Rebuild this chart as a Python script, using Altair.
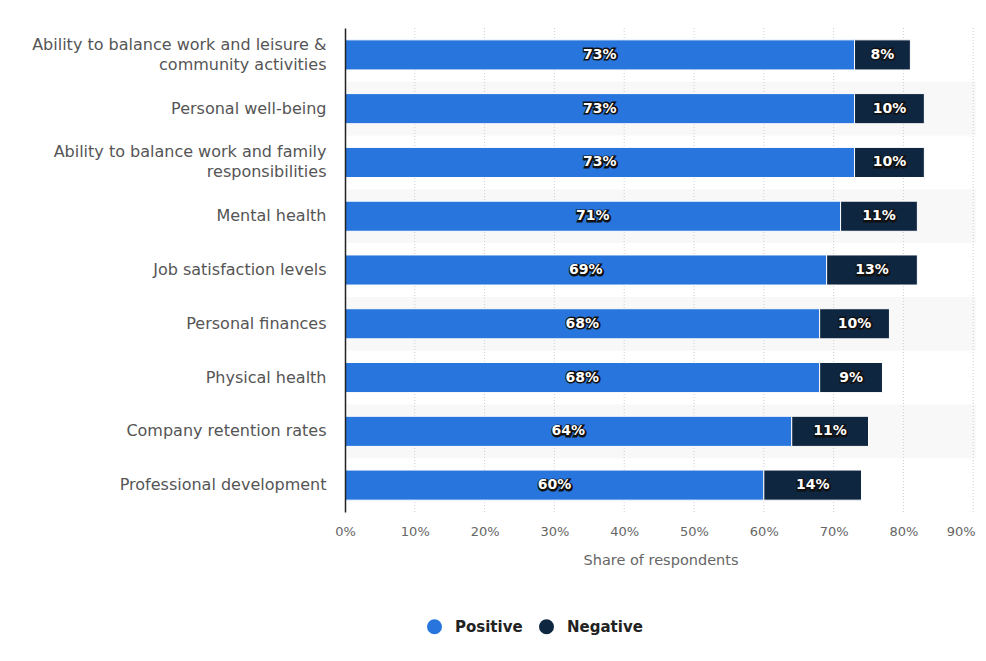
import altair as alt
import pandas as pd

categories = [
    "Ability to balance work and leisure &|community activities",
    "Personal well-being",
    "Ability to balance work and family|responsibilities",
    "Mental health",
    "Job satisfaction levels",
    "Personal finances",
    "Physical health",
    "Company retention rates",
    "Professional development",
]
positive = [73, 73, 73, 71, 69, 68, 68, 64, 60]
negative = [8, 10, 10, 11, 13, 10, 9, 11, 14]
series = ["Positive", "Negative"]
colors = ["#2876dd", "#0f2640"]
x_ticks = [0, 10, 20, 30, 40, 50, 60, 70, 80, 90]
x_max = 90.4

rows = []
for i, c in enumerate(categories):
    rows.append({"category": c, "series": "Positive", "value": positive[i], "order": 0})
    rows.append({"category": c, "series": "Negative", "value": negative[i], "order": 1})
df = pd.DataFrame(rows)

stripes = pd.DataFrame({"category": [c for i, c in enumerate(categories) if i % 2 == 1]})
grid = pd.DataFrame({"v": x_ticks[1:]})

xscale = alt.Scale(domain=[0, x_max], nice=False, zero=True)
yscale = alt.Scale(domain=categories, paddingInner=0.44, paddingOuter=0.22)

bg = alt.Chart(stripes).mark_rect(color="#f8f8f8").encode(
    y=alt.Y("category:N", scale=alt.Scale(domain=categories, paddingInner=0, paddingOuter=0), axis=None),
    x=alt.X(datum=0, scale=xscale, type="quantitative"),
    x2=alt.X2(datum=x_max),
)

rules = alt.Chart(grid).mark_rule(color="#cfcfcf", strokeDash=[1, 2], strokeWidth=1).encode(
    x=alt.X("v:Q", scale=xscale)
)

base = alt.Chart(df).transform_stack(
    stack="value", groupby=["category"], sort=[alt.SortField("order")], as_=["x0", "x1"]
).transform_calculate(
    mid="(datum.x0 + datum.x1) / 2", label="datum.value + '%'"
)

bars = base.mark_bar(stroke="white", strokeWidth=1).encode(
    y=alt.Y(
        "category:N",
        scale=yscale,
        title=None,
        axis=alt.Axis(
            labelExpr="split(datum.label, '|')",
            labelFontSize=16,
            labelColor="#555555",
            labelLineHeight=20,
            labelLimit=500,
            labelPadding=19,
            labelOffset={"condition": {"test": "indexof(datum.value, '|') >= 0", "value": -10}, "value": 0},
            ticks=False,
            domain=True,
            domainColor="#222222",
            domainWidth=1.5,
            grid=False,
            zindex=1,
        ),
    ),
    x=alt.X(
        "x0:Q",
        scale=xscale,
        title="Share of respondents",
        axis=alt.Axis(
            values=x_ticks,
            labelExpr="datum.value + '%'",
            labelFontSize=13,
            labelColor="#666666",
            labelPadding=13,
            labelFlush=False,
            labelAlign={"condition": {"test": "datum.value >= 90", "value": "right"}, "value": "center"},
            labelOffset={"condition": {"test": "datum.value >= 90", "value": 2}, "value": 0},
            domain=False,
            ticks=False,
            grid=False,
            titleFontSize=14.5,
            titleFontWeight="normal",
            titleColor="#666666",
            titlePadding=15,
        ),
    ),
    x2="x1:Q",
    color=alt.Color(
        "series:N",
        scale=alt.Scale(domain=series, range=colors),
        legend=alt.Legend(
            title=None,
            orient="none",
            direction="horizontal",
            legendX=82,
            legendY=591,
            symbolType="circle",
            symbolSize=225,
            symbolStrokeWidth=0,
            labelFontSize=15,
            labelFontWeight="bold",
            labelColor="#222222",
            labelOffset=13,
            columnPadding=16,
        ),
    ),
    order=alt.Order("order:Q"),
)

text_shadow = base.mark_text(
    fontSize=14, fontWeight="bold", color="#111111", stroke="#111111", strokeWidth=3, dx=0.5, dy=0.5
).encode(
    y=alt.Y("category:N", scale=yscale, axis=None),
    x=alt.X("mid:Q", scale=xscale),
    text="label:N",
)
text = base.mark_text(fontSize=14, fontWeight="bold", color="white").encode(
    y=alt.Y("category:N", scale=yscale, axis=None),
    x=alt.X("mid:Q", scale=xscale),
    text="label:N",
)

chart = alt.layer(bg, rules, bars, text_shadow, text).resolve_scale(y="independent").properties(
    width=631,
    height=484,
    autosize=alt.AutoSizeParams(type="none"),
    padding={"left": 337, "top": 20, "right": 0, "bottom": 126},
).configure(font="DejaVu Sans").configure_view(stroke=None)

chart.save("out.html", embed_options={"renderer": "svg", "actions": False})
